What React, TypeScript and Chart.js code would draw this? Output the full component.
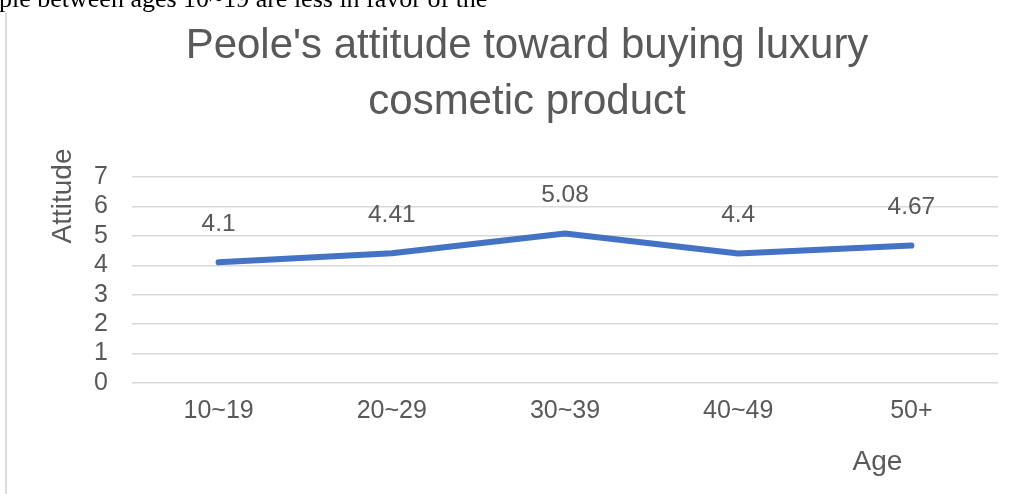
import React, { useEffect, useRef } from 'react';
import { Chart, registerables } from 'chart.js';

Chart.register(...registerables);

const categories: string[] = ['10~19', '20~29', '30~39', '40~49', '50+'];
const attitude: number[] = [4.1, 4.41, 5.08, 4.4, 4.67];
const yMin = 0;
const yMax = 7;
const yStep = 1;
const titleLines: string[] = ["Peole's attitude toward buying luxury", 'cosmetic product'];
const xAxisTitle = 'Age';
const yAxisTitle = 'Attitude';
const pageText = 'ple between ages 10~19 are less in favor of the';

const FONT = '"Liberation Sans", Arial, sans-serif';
const TEXT = '#595959';
const GRID = '#d9d9d9';
const LINE = '#4472C4';

const annotatePlugin = {
  id: 'annotate',
  afterDatasetsDraw(chart: any) {
    const ctx = chart.ctx as CanvasRenderingContext2D;
    const area = chart.chartArea;
    const meta = chart.getDatasetMeta(0);
    const xScale = chart.scales.x;
    ctx.save();
    ctx.fillStyle = TEXT;
    ctx.textAlign = 'center';
    ctx.textBaseline = 'middle';
    ctx.font = `24.5px ${FONT}`;
    meta.data.forEach((pt: any, i: number) => {
      ctx.fillText(String(attitude[i]), pt.x, pt.y - 38);
    });
    ctx.font = `28px ${FONT}`;
    const lastX = xScale.getPixelForValue(categories.length - 1);
    ctx.fillText(xAxisTitle, lastX - 34, area.bottom + 79);
    ctx.translate(area.left - 69, area.top + 19);
    ctx.rotate(-Math.PI / 2);
    ctx.fillText(yAxisTitle, 0, 0);
    ctx.restore();
  },
};

export default function App() {
  const canvasRef = useRef<HTMLCanvasElement | null>(null);

  useEffect(() => {
    if (!canvasRef.current) return;
    const chart = new Chart(canvasRef.current, {
      type: 'line',
      data: {
        labels: categories,
        datasets: [
          {
            data: attitude,
            borderColor: LINE,
            backgroundColor: LINE,
            borderWidth: 6,
            pointRadius: 0,
            pointHoverRadius: 0,
            borderCapStyle: 'round',
            borderJoinStyle: 'round',
            tension: 0,
            clip: false as any,
          },
        ],
      },
      options: {
        animation: false,
        responsive: false,
        devicePixelRatio: 1,
        layout: { padding: { left: 56, right: 21, top: 0, bottom: 68 } },
        plugins: {
          legend: { display: false },
          tooltip: { enabled: false },
          title: {
            display: true,
            text: titleLines,
            color: TEXT,
            font: { family: FONT, size: 42, weight: 'normal', lineHeight: 56 / 42 },
            padding: { top: 18, bottom: 47 },
          },
        },
        scales: {
          x: {
            type: 'category',
            offset: true,
            afterFit: (scale: any) => {
              scale.height = 43;
            },
            grid: { display: false, drawTicks: false },
            border: { display: false },
            ticks: { color: TEXT, font: { family: FONT, size: 25 }, padding: 13, maxRotation: 0, autoSkip: false },
          },
          y: {
            min: yMin,
            max: yMax,
            afterFit: (scale: any) => {
              scale.width = 76;
            },
            grid: { color: GRID, lineWidth: 1.5, drawTicks: false },
            border: { display: false },
            ticks: {
              stepSize: yStep,
              autoSkip: false,
              color: TEXT,
              font: { family: FONT, size: 25 },
              padding: 24,
            },
          },
        },
      },
      plugins: [annotatePlugin],
    });
    return () => chart.destroy();
  }, []);

  return (
    <div
      style={{
        position: 'fixed',
        left: 0,
        top: 0,
        width: 1019,
        height: 494,
        background: '#ffffff',
        overflow: 'hidden',
      }}
    >
      <div
        style={{
          position: 'absolute',
          left: 5,
          top: 13,
          width: 0,
          height: 481,
          borderLeft: '2px solid #dcdcdc',
        }}
      />
      <canvas
        ref={canvasRef}
        width={1019}
        height={494}
        style={{ position: 'absolute', left: 0, top: 0, width: 1019, height: 494 }}
      />
      <div
        style={{
          position: 'absolute',
          left: -1,
          top: -14,
          fontFamily: '"Liberation Serif", "Times New Roman", serif',
          fontSize: 26,
          lineHeight: '26px',
          whiteSpace: 'nowrap',
          color: '#000000',
        }}
      >
        {pageText}
      </div>
    </div>
  );
}
